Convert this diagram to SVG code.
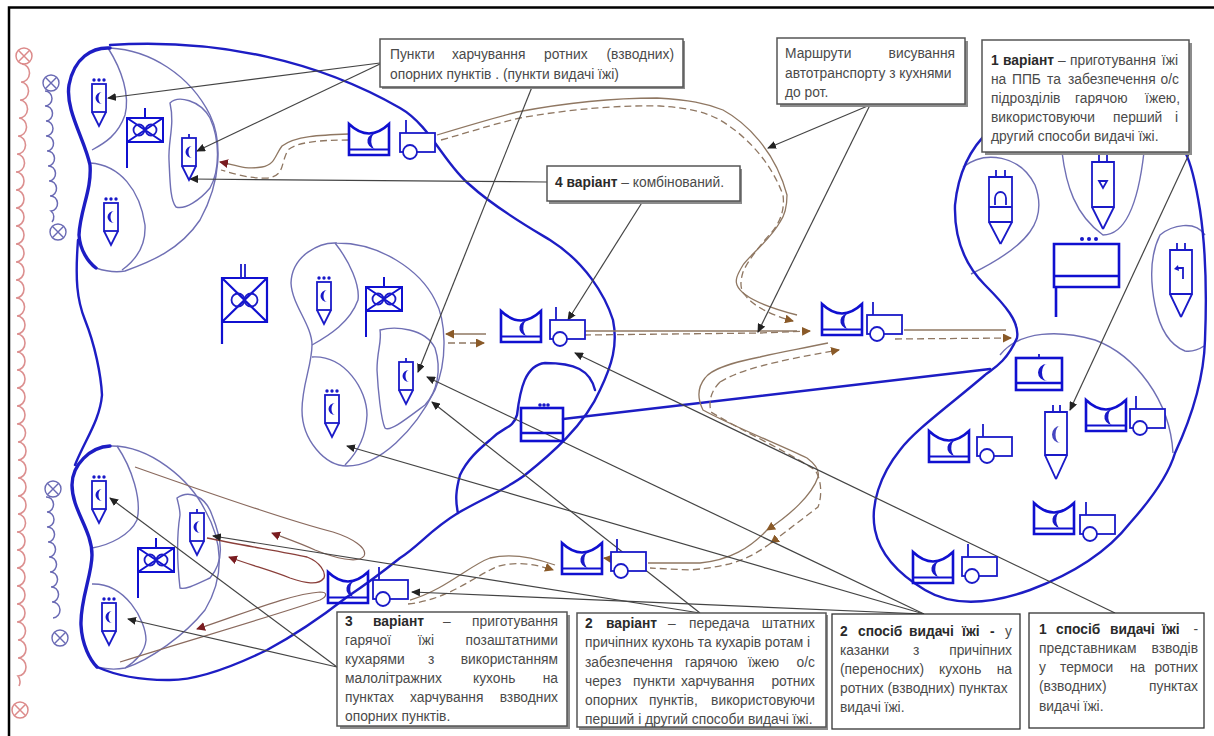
<svg xmlns="http://www.w3.org/2000/svg" width="1214" height="736" viewBox="0 0 1214 736">
<style>
text{font-family:"Liberation Sans",Arial,sans-serif;font-size:13.8px;fill:#4a4a4a}
.b{font-weight:bold;fill:#2a2a2a}
.e{text-anchor:end}
.box{fill:#fff;stroke:#555;stroke-width:1.5}
.box2{fill:#fff;stroke:#333;stroke-width:1.3}
.sh{fill:#8c8c8c;stroke:none}
.thick{fill:none;stroke:#1d1dc4;stroke-width:2.4;stroke-linecap:round}
.thick2{fill:none;stroke:#1d1dc4;stroke-width:3.4;stroke-linecap:round}
.thin{fill:none;stroke:#6f6fb4;stroke-width:1.4}
.sym{fill:none;stroke:#1a1ac8;stroke-width:1.8}
.symb{fill:none;stroke:#1010d0;stroke-width:2.6}
.fillb{fill:#1818c8;stroke:none}
.lead{fill:none;stroke:#444;stroke-width:1.2;marker-end:url(#ab)}
.solid{fill:none;stroke:#8f7762;stroke-width:1.3}
.dash{fill:none;stroke:#8f7762;stroke-width:1.3;stroke-dasharray:7 4}
.loop{fill:none;stroke:#8a6a5e;stroke-width:1.2}
.loopr{fill:none;stroke:#8a3f3a;stroke-width:1.3}
.ar{marker-end:url(#abr)}
.arr{marker-end:url(#ard)}
</style>
<defs>
<marker id="ab" markerUnits="userSpaceOnUse" markerWidth="9" markerHeight="8" refX="8" refY="4" orient="auto"><path d="M0 0L9 4L0 8Z" fill="#222"/></marker>
<marker id="abr" markerUnits="userSpaceOnUse" markerWidth="9" markerHeight="9" refX="8" refY="4.5" orient="auto"><path d="M0 0L9 4.5L0 9Z" fill="#8a5a28"/></marker>
<marker id="ard" markerUnits="userSpaceOnUse" markerWidth="9" markerHeight="9" refX="8" refY="4.5" orient="auto"><path d="M0 0L9 4.5L0 9Z" fill="#7a1c20"/></marker>
<g id="post"><rect class="sym" x="-7" y="0" width="14" height="28"/><path class="sym" d="M-7 28L0 42L7 28"/><path class="fillb" d="M3 8A6.500 6 0 0 0 3 20A3.500 6 0 0 1 3 8Z"/></g>
<g id="dots"><circle class="fillb" cx="-5" cy="-4" r="1.700"/><circle class="fillb" cx="0" cy="-4" r="1.700"/><circle class="fillb" cx="5" cy="-4" r="1.700"/></g>
<g id="kitchen"><path class="symb" d="M0 0Q20 19 40 0V31H0Z"/><path d="M0 25.500H40" fill="none" stroke="#1010d0" stroke-width="2"/><path class="fillb" d="M29 9A9 8 0 0 0 26 25A5 8 0 0 1 29 9Z"/></g>
<g id="trailer"><rect class="sym" x="0" y="0" width="35" height="19" style="fill:#fff"/><path class="sym" d="M6 0V-13"/><circle class="sym" cx="10" cy="19" r="7" style="fill:#fff"/></g>
<g id="flag"><path d="M0 0H36V24H0ZM0 0L36 24M36 0L0 24M18 0V-10M0 24V50" fill="none" stroke="#1010d0" stroke-width="2"/><circle class="sym" cx="12" cy="12" r="5.500"/><circle class="sym" cx="24" cy="12" r="5.500"/></g>
</defs>
<rect width="1214" height="736" fill="#fff"/>
<path d="M9 736V7.500H1214" fill="none" stroke="#000" stroke-width="2.500"/>

<g id="flanks">
<path fill="none" stroke="#dc8f8f" stroke-width="1.600" d="M22 64a8 9 0 0 1 -1 18a8 9 0 0 1 -1 18a8 9 0 0 1 -1 18a8 9 0 0 1 -1 18a8 9 0 0 1 -1 18a8 9 0 0 1 -1 18a8 9 0 0 1 0 18a8 9 0 0 1 0 18a8 9 0 0 1 0 18a8 9 0 0 1 0 18a8 9 0 0 1 0 18a8 9 0 0 1 0 18a8 9 0 0 1 0 18a8 9 0 0 1 1 18a8 9 0 0 1 0 18a8 9 0 0 1 0 18a8 9 0 0 1 0 18a8 9 0 0 1 0 18a8 9 0 0 1 0 18a8 9 0 0 1 0 18a8 9 0 0 1 1 18a8 9 0 0 1 0 18a8 9 0 0 1 0 18a8 9 0 0 1 0 18a8 9 0 0 1 0 18a8 9 0 0 1 -1 18a8 9 0 0 1 0 18a8 9 0 0 1 0 18a8 9 0 0 1 0 18a8 9 0 0 1 0 18a8 9 0 0 1 0 18a8 9 0 0 1 1 18a8 9 0 0 1 0 18a8 9 0 0 1 0 18a8 9 0 0 1 1 10"/>
<g fill="none" stroke="#dc8a8a" stroke-width="1.500"><circle cx="24" cy="56" r="8"/><path d="M18.300 50.300L29.700 61.700M29.700 50.300L18.300 61.700"/><circle cx="20" cy="710" r="8"/><path d="M14.300 704.300L25.700 715.700M25.700 704.300L14.300 715.700"/></g>
<path fill="none" stroke="#6a6ab4" stroke-width="1.500" d="M45 91a7 7.500 0 0 1 0 15a7 7.500 0 0 1 1 15a7 7.500 0 0 1 0 15a7 7.500 0 0 1 1 15a7 7.500 0 0 1 1 15a7 7.500 0 0 1 1 15a7 7.500 0 0 1 1 15a7 7.500 0 0 1 1 15a7 7.500 0 0 1 1 11"/>
<g fill="none" stroke="#6a6ab4" stroke-width="1.400"><circle cx="51" cy="83" r="8"/><path d="M45.300 77.300L56.700 88.700M56.700 77.300L45.300 88.700"/><circle cx="58" cy="232" r="8"/><path d="M52.300 226.300L63.700 237.700M63.700 226.300L52.300 237.700"/></g>
<path fill="none" stroke="#6a6ab4" stroke-width="1.500" d="M46 497a7 7.500 0 0 1 1 15a7 7.500 0 0 1 0 15a7 7.500 0 0 1 1 15a7 7.500 0 0 1 1 15a7 7.500 0 0 1 1 15a7 7.500 0 0 1 1 15a7 7.500 0 0 1 1 15a7 7.500 0 0 1 1 16"/>
<g fill="none" stroke="#6a6ab4" stroke-width="1.400"><circle cx="53" cy="489" r="8"/><path d="M47.300 483.300L58.700 494.700M58.700 483.300L47.300 494.700"/><circle cx="60" cy="638" r="8"/><path d="M54.300 632.300L65.700 643.700M65.700 632.300L54.300 643.700"/></g>
</g>

<g id="regions">
<path class="thin" d="M110 48C150 50 190 75 210 115C222 140 222 180 200 220C180 250 150 262 125 271C115 273 105 271 96 268"/>
<path class="thin" d="M108 48C122 70 130 95 125 115C118 135 105 143 92 150"/>
<path class="thin" d="M90 163C120 165 140 190 145 225C146 245 136 260 122 270"/>
<path class="thin" d="M170 103C178 95 200 100 210 118C220 140 220 170 210 188C200 200 185 210 176 207C170 200 170 180 169 160C168 140 175 125 170 103Z"/>
<path class="thin" d="M337 243C320 242 292 255 291 283C292 305 312 325 312 345C312 365 302 385 302 410C302 440 325 466 347 466C380 466 415 430 435 390C448 360 446 320 435 300C420 270 380 243 337 243Z"/>
<path class="thin" d="M335 243C350 262 360 285 358 300C350 322 330 335 312 345"/>
<path class="thin" d="M312 357C345 355 367 390 367 415C366 440 355 455 345 465"/>
<path class="thin" d="M380 330C395 326 425 328 435 348C442 370 437 392 425 405C405 420 390 432 385 428C381 420 378 390 377 370C377 350 382 342 380 330Z"/>
<path class="thin" d="M110 446C150 445 190 480 205 510C222 540 226 575 205 610C185 635 150 660 125 668C115 670 105 669 97 667"/>
<path class="thin" d="M117 446C132 468 142 500 137 520C130 535 110 545 92 548"/>
<path class="thin" d="M92 584C125 583 146 620 146 640C145 652 135 662 125 668"/>
<path class="thin" d="M177 498C188 490 205 495 212 515C222 540 225 560 210 578C195 585 185 590 180 588C178 570 176 540 180 515C180 508 178 503 177 498Z"/>
<path class="thin" d="M963 167C985 150 1020 155 1035 185C1048 220 1030 245 971 274"/>
<path class="thin" d="M1062 152C1066 185 1075 215 1103 235C1125 235 1138 205 1144 152"/>
<path class="thin" d="M1205 235C1195 220 1172 225 1160 235C1150 255 1150 280 1155 305C1160 330 1170 345 1185 351C1192 352 1198 350 1204 346"/>
<path class="thin" d="M1000 355C1020 330 1060 330 1095 340C1135 355 1170 400 1173 453"/>
<path class="thick2" d="M110 48C92 47 74 58 69 85C65 110 85 140 90 165C92 190 80 210 79 235C80 250 88 262 96 268"/>
<path class="thick" d="M78 240C75 280 77 300 85 320C95 345 101 375 102 395C100 420 85 440 75 465"/>
<path class="thick" d="M110 45C220 38 320 62 400 108C430 125 445 165 470 185C495 208 530 228 550 240C585 262 605 295 613 320C618 345 612 365 600 390C585 425 550 455 525 475C505 490 480 500 458 513C430 530 420 545 400 558C385 570 365 585 347 597C320 618 295 635 267 650C230 668 195 681 167 680C140 680 115 675 97 667"/>
<path class="thick2" d="M110 446C90 447 72 465 72 485C72 510 92 530 92 555C92 575 80 600 81 625C82 645 90 660 97 667"/>
<path class="thick" d="M595 390C590 370 575 363 545 363C525 365 520 390 517 415C512 430 505 425 490 440C478 450 467 460 460 475C456 490 455 500 458 513"/>
<path class="thick" d="M563 419L990 369"/>
<path class="thick" d="M990 130C968 150 958 175 955 205C954 240 965 265 985 285C1005 305 1020 322 1017 338C1005 365 990 370 985 375C950 405 915 430 900 450C880 475 870 505 875 530C880 555 900 575 925 590C950 605 985 606 1030 590C1070 575 1105 555 1130 523C1155 495 1170 470 1175 453C1195 410 1204 375 1205 340C1207 290 1206 250 1200 210C1196 185 1192 165 1185 152"/>
</g>

<g id="connectors">
<path class="solid arr" d="M349 134C320 135 295 136 282 146C275 155 275 165 262 167C245 170 235 165 220 162"/>
<path class="dash" d="M349 140C320 140 297 142 288 150C280 165 285 175 268 178C250 179 235 174 221 170"/>
<path class="solid" d="M437 135C470 125 490 119 517 112C570 102 610 98 657 98C690 100 705 103 723 110C745 122 775 150 787 195C787 205 785 215 780 222C770 240 750 255 743 265C737 275 735 280 737 285C742 298 770 308 797 315"/>
<path class="dash ar" d="M441 140C470 132 490 125 520 118C570 109 620 105 660 106C690 108 705 112 720 120C745 135 770 160 783 195C785 210 780 222 772 232C760 245 747 262 743 272C740 282 740 290 745 295C752 305 770 315 793 321"/>
<path class="solid" d="M584 331H797"/>
<path class="dash ar" d="M584 335L760 333L810 331"/>
<path class="solid ar" d="M486 334H446"/>
<path class="dash ar" d="M448 343H484"/>
<path class="solid" d="M904 330H1006"/>
<path class="dash ar" d="M895 339L1011 338"/>
<path class="solid ar" d="M828 343C800 349 780 352 760 357C735 362 712 368 705 378C697 388 698 400 703 410C730 425 780 445 807 458C815 464 820 470 818 477C812 495 790 515 767 530"/>
<path class="solid" d="M767 530C750 548 730 560 700 563L648 563"/>
<path class="dash ar" d="M720 382C740 370 770 362 839 350"/>
<path class="dash ar" d="M720 382C712 390 708 400 711 412C740 430 785 450 815 470C822 480 822 497 818 507L771 543"/>
<path class="dash" d="M771 543C750 558 735 566 690 570L650 568"/>
<path class="solid" d="M555 565C530 556 510 553 490 558C470 565 445 590 410 600"/>
<path class="dash ar" d="M408 604C445 600 470 580 490 570C505 561 530 562 553 570"/>
<path class="solid ar" d="M612 559L604 558"/>
<path class="loop arr" d="M135 467C200 490 285 520 333 532C352 538 368 548 364 556C358 564 335 558 315 550C300 543 285 538 272 533"/>
<path class="loopr arr" d="M207 538C240 545 285 552 307 557C320 562 326 572 324 578C318 586 305 583 290 578C270 570 250 565 229 557"/>
<path class="loop arr" d="M120 662C190 640 260 620 320 600C328 596 327 592 320 592C290 594 240 615 197 629"/>
<path class="lead" d="M380 63L108 98"/>
<path class="lead" d="M380 64L197 151"/>
<path class="lead" d="M547 182L190 179"/>
<path class="lead" d="M643 201L568 320"/>
<path class="lead" d="M532 87L418 372"/>
<path class="lead" d="M870 105L768 148"/>
<path class="lead" d="M870 105L758 332"/>
<path class="lead" d="M1190 152L1070 410"/>
<path class="lead" d="M1115 613L575 353"/>
<path class="lead" d="M924 614L427 377"/>
<path class="lead" d="M924 614L347 446"/>
<path class="lead" d="M924 614L412 592"/>
<path class="lead" d="M700 613L432 402"/>
<path class="lead" d="M700 613L213 536"/>
<path class="lead" d="M337 667L110 498"/>
<path class="lead" d="M337 667L128 619"/>
</g>

<g id="node-tl-post1" transform="translate(99 84)"><use href="#post"/><use href="#dots"/></g>
<g id="node-tl-post2" transform="translate(189 138)"><use href="#post"/><path class="sym" d="M0 0V-4"/></g>
<g id="node-tl-post3" transform="translate(111 203)"><use href="#post"/><use href="#dots"/></g>
<g id="node-tl-flag" transform="translate(127 118)"><use href="#flag"/></g>
<g id="node-m-post1" transform="translate(324 282)"><use href="#post"/><use href="#dots"/></g>
<g id="node-m-post2" transform="translate(406 362)"><use href="#post"/><path class="sym" d="M0 0V-4"/></g>
<g id="node-m-post3" transform="translate(332 395)"><use href="#post"/><use href="#dots"/></g>
<g id="node-m-flag" transform="translate(366 287)"><use href="#flag"/></g>
<g id="node-bl-post1" transform="translate(99 481)"><use href="#post"/><use href="#dots"/></g>
<g id="node-bl-post2" transform="translate(197 513)"><use href="#post"/><path class="sym" d="M0 0V-4"/></g>
<g id="node-bl-post3" transform="translate(109 603)"><use href="#post"/><use href="#dots"/></g>
<g id="node-bl-flag" transform="translate(138 548)"><use href="#flag"/></g>
<g id="node-cp-large"><path d="M222 278H267V322H222ZM222 278L267 322M267 278L222 322M222 322V344" fill="none" stroke="#1010d0" stroke-width="2.200"/><path class="sym" d="M241 264V278M245 264V278" stroke-width="2"/><circle class="sym" cx="238" cy="300" r="6.500"/><circle class="sym" cx="251" cy="300" r="6.500"/></g>
<g id="node-k1"><use href="#kitchen" x="349" y="124"/><use href="#trailer" x="400" y="133"/></g>
<g id="node-k2"><use href="#kitchen" x="501" y="311"/><use href="#trailer" x="550" y="320"/></g>
<g id="node-k3"><use href="#kitchen" x="822" y="304"/><use href="#trailer" x="867" y="315"/></g>
<g id="node-k4"><use href="#kitchen" x="562" y="543"/><use href="#trailer" x="611" y="552"/></g>
<g id="node-k5"><use href="#kitchen" x="328" y="572"/><use href="#trailer" x="373" y="580"/></g>
<g id="node-k6"><use href="#kitchen" x="1086" y="400"/><use href="#trailer" x="1130" y="409"/></g>
<g id="node-k7"><use href="#kitchen" x="929" y="431"/><use href="#trailer" x="977" y="437"/></g>
<g id="node-k8"><use href="#kitchen" x="1034" y="503"/><use href="#trailer" x="1080" y="515"/></g>
<g id="node-k9"><use href="#kitchen" x="913" y="552"/><use href="#trailer" x="962" y="557"/></g>
<g id="node-mid-store"><rect class="symb" x="521" y="408" width="42" height="33"/><path class="symb" d="M521 433H563"/><circle class="fillb" cx="540" cy="405" r="1.800"/><circle class="fillb" cx="544" cy="405" r="1.800"/><circle class="fillb" cx="548" cy="405" r="1.800"/></g>
<g id="node-r-store"><rect class="symb" x="1016" y="358" width="46" height="32"/><path class="symb" d="M1016 383H1062"/><path class="sym" d="M1039 358V354"/><path class="fillb" d="M1047 364A9 8.500 0 0 0 1047 381A5 8.500 0 0 1 1047 364Z"/></g>
<g id="node-r-hq"><path class="symb" d="M1054 244H1119V287H1054ZM1054 276H1119M1056 287V317"/><circle class="fillb" cx="1082" cy="239" r="2"/><circle class="fillb" cx="1089" cy="239" r="2"/><circle class="fillb" cx="1096" cy="239" r="2"/></g>
<g id="node-r-dome"><path class="sym" d="M989 177H1012V222H989ZM1000.500 244L989 222M1000.500 244L1012 222M996 177V170M1005 177V170M989 207H1012M995 205V198A5.500 6 0 0 1 1006 198V205"/></g>
<g id="node-r-tri"><path class="sym" d="M1092 162H1114V207H1092ZM1103 229L1092 207M1103 229L1114 207M1099 162V155M1107 162V155M1099 181H1107L1103 188Z"/></g>
<g id="node-r-hook"><path class="sym" d="M1170 250H1192V294H1170ZM1181 317L1170 294M1181 317L1192 294M1177 250V243M1185 250V243M1178 268H1183V279"/><path class="fillb" d="M1178 265L1174 269L1179 271Z"/></g>
<g id="node-r-post"><path class="sym" d="M1045 412H1067V455H1045ZM1056 479L1045 455M1056 479L1067 455M1053 412V405M1060 412V405"/><path d="M1060 426A8 8.500 0 0 0 1060 443A4.500 8.500 0 0 1 1060 426Z" fill="#4646c0"/></g>

<g id="box-points"><rect class="sh" x="382" y="41" width="303" height="48"/><rect class="box" x="380" y="39" width="303" height="48"/>
<text y="59"><tspan x="390">Пункти</tspan> <tspan x="452">харчування</tspan> <tspan x="544">ротних</tspan> <tspan x="674" class="e">(взводних)</tspan></text>
<text x="390" y="79">опорних пунктів . (пункти видачі їжі)</text></g>
<g id="box-routes"><rect class="sh" x="780" y="41" width="188" height="66"/><rect class="box" x="777" y="38" width="188" height="66"/>
<text y="58"><tspan x="785">Маршрути</tspan> <tspan x="955" class="e">висування</tspan></text>
<text x="785" y="78">автотранспорту з кухнями</text>
<text x="785" y="97">до рот.</text></g>
<g id="box-var1"><rect class="sh" x="985" y="43" width="207" height="112"/><rect class="box" x="982" y="40" width="207" height="112"/>
<text y="65"><tspan x="991" class="b">1</tspan> <tspan x="1003" class="b">варіант</tspan> <tspan x="1058">–</tspan> <tspan x="1070">приготування</tspan> <tspan x="1178" class="e">їжі</tspan></text>
<text y="84"><tspan x="991">на</tspan> <tspan x="1012">ППБ</tspan> <tspan x="1047">та</tspan> <tspan x="1068">забезпечення</tspan> <tspan x="1179" class="e">о/с</tspan></text>
<text y="103"><tspan x="991">підрозділів</tspan> <tspan x="1075">гарячою</tspan> <tspan x="1180" class="e">їжею,</tspan></text>
<text y="122"><tspan x="991">використовуючи</tspan> <tspan x="1113">перший</tspan> <tspan x="1178" class="e">і</tspan></text>
<text x="991" y="141">другий способи видачі їжі.</text></g>
<g id="box-var4"><rect class="sh" x="549" y="169" width="193" height="35"/><rect class="box" x="547" y="166" width="193" height="35"/>
<text x="555" y="187"><tspan class="b">4 варіант</tspan> – комбінований.</text></g>
<g id="box-var3"><rect class="sh" x="340" y="615" width="230" height="114"/><rect class="box" x="337" y="612" width="230" height="114"/>
<text y="626"><tspan x="345" class="b">3</tspan> <tspan x="373" class="b">варіант</tspan> <tspan x="443">–</tspan> <tspan x="558" class="e">приготування</tspan></text>
<text y="645"><tspan x="345">гарячої</tspan> <tspan x="418">їжі</tspan> <tspan x="558" class="e">позаштатними</tspan></text>
<text y="664"><tspan x="345">кухарями</tspan> <tspan x="428">з</tspan> <tspan x="558" class="e">використанням</tspan></text>
<text y="683"><tspan x="345">малолітражних</tspan> <tspan x="473">кухонь</tspan> <tspan x="558" class="e">на</tspan></text>
<text y="702"><tspan x="345">пунктах</tspan> <tspan x="410">харчування</tspan> <tspan x="558" class="e">взводних</tspan></text>
<text x="345" y="721">опорних пунктів.</text></g>
<g id="box-var2"><rect class="sh" x="579" y="615" width="249" height="115"/><rect class="box" x="577" y="613" width="249" height="114"/>
<text y="628"><tspan x="585" class="b">2</tspan> <tspan x="606" class="b">варіант</tspan> <tspan x="668">–</tspan> <tspan x="689">передача</tspan> <tspan x="815" class="e">штатних</tspan></text>
<text x="585" y="647">причіпних кухонь та кухарів ротам і</text>
<text y="667"><tspan x="585">забезпечення</tspan> <tspan x="685">гарячою</tspan> <tspan x="748">їжею</tspan> <tspan x="815" class="e">о/с</tspan></text>
<text y="686"><tspan x="585">через</tspan> <tspan x="633">пункти</tspan> <tspan x="681">харчування</tspan> <tspan x="815" class="e">ротних</tspan></text>
<text y="705"><tspan x="585">опорних</tspan> <tspan x="649">пунктів,</tspan> <tspan x="815" class="e">використовуючи</tspan></text>
<text x="585" y="724">перший і другий способи видачі їжі.</text></g>
<g id="box-way2"><rect class="box2" x="832" y="614" width="188" height="115"/>
<text y="636"><tspan x="840" class="b">2</tspan> <tspan x="858" class="b">спосіб</tspan> <tspan x="909" class="b">видачі</tspan> <tspan x="962" class="b">їжі</tspan> <tspan x="990" class="b">-</tspan> <tspan x="1012" class="e">у</tspan></text>
<text y="655"><tspan x="840">казанки</tspan> <tspan x="913">з</tspan> <tspan x="1012" class="e">причіпних</tspan></text>
<text y="674"><tspan x="840">(переносних)</tspan> <tspan x="939">кухонь</tspan> <tspan x="1012" class="e">на</tspan></text>
<text x="840" y="693">ротних (взводних) пунктах</text>
<text x="840" y="712">видачі їжі.</text></g>
<g id="box-way1"><rect class="box2" x="1029" y="613" width="175" height="115"/>
<text y="634"><tspan x="1039" class="b">1</tspan> <tspan x="1056" class="b">спосіб</tspan> <tspan x="1110" class="b">видачі</tspan> <tspan x="1162" class="b">їжі</tspan> <tspan x="1198" class="e">-</tspan></text>
<text y="653"><tspan x="1039">представникам</tspan> <tspan x="1198" class="e">взводів</tspan></text>
<text y="672"><tspan x="1039">у</tspan> <tspan x="1060">термоси</tspan> <tspan x="1130">на</tspan> <tspan x="1198" class="e">ротних</tspan></text>
<text y="691"><tspan x="1039">(взводних)</tspan> <tspan x="1198" class="e">пунктах</tspan></text>
<text x="1039" y="711">видачі їжі.</text></g>
</svg>
